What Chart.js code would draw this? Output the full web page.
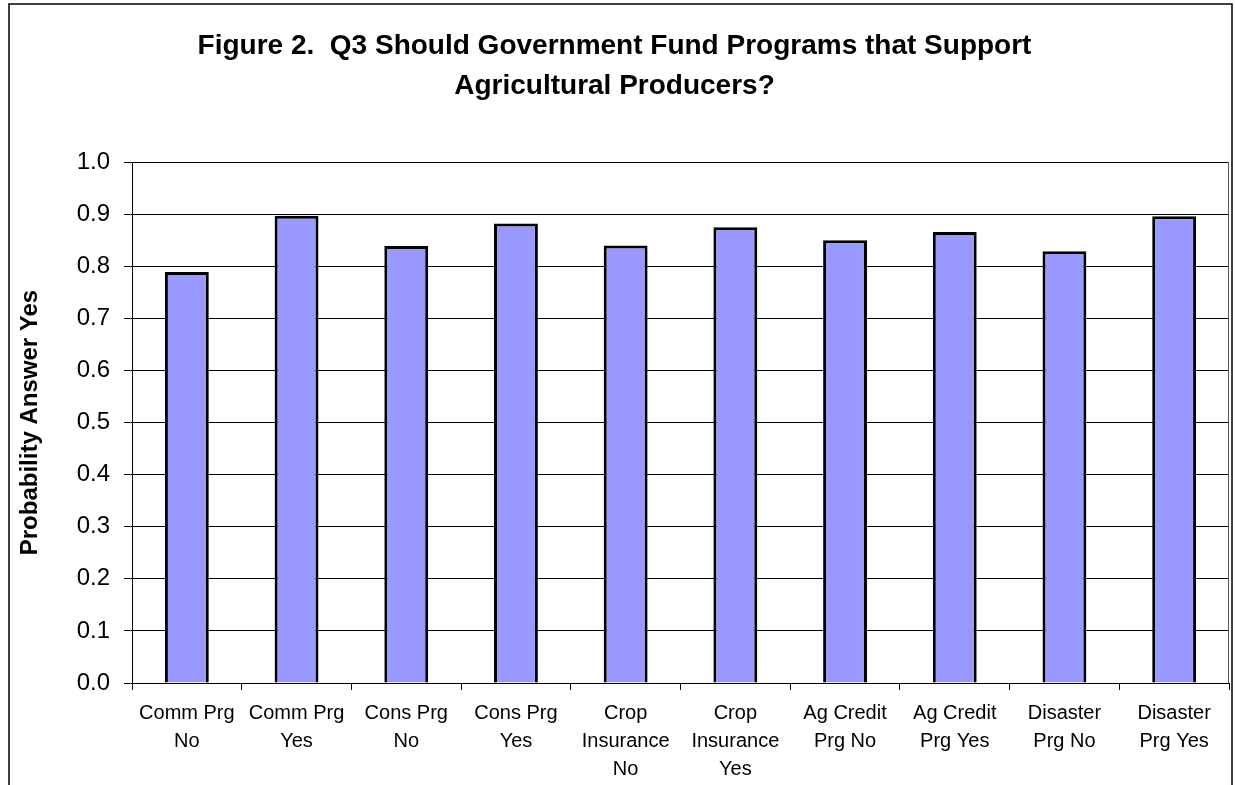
<!DOCTYPE html>
<html>
<head>
<meta charset="utf-8">
<script src="https://cdn.jsdelivr.net/npm/chart.js@4"></script>
<style>
  html, body { margin: 0; padding: 0; background: #fff; }
  #wrap { width: 1235px; height: 785px; }
</style>
</head>
<body>
<div id="wrap"><canvas id="myChart" width="1235" height="785"></canvas></div>
<script>
    // categories, one label line per array entry
    let labels = [
      ['Comm Prg', 'No'],
      ['Comm Prg', 'Yes'],
      ['Cons Prg', 'No'],
      ['Cons Prg', 'Yes'],
      ['Crop', 'Insurance', 'No'],
      ['Crop', 'Insurance', 'Yes'],
      ['Ag Credit', 'Prg No'],
      ['Ag Credit', 'Prg Yes'],
      ['Disaster', 'Prg No'],
      ['Disaster', 'Prg Yes']
    ];
    let values = [0.789, 0.897, 0.839, 0.882, 0.840, 0.875, 0.850, 0.866, 0.829, 0.896];
    let yTicks = [0.0, 0.1, 0.2, 0.3, 0.4, 0.5, 0.6, 0.7, 0.8, 0.9, 1.0];

    const chartTitle = ['Figure 2.  Q3 Should Government Fund Programs that Support', 'Agricultural Producers?'];
    const axisTitle = 'Probability Answer Yes';
    const barColor = '#9999ff';
    const fontName = '"Liberation Sans", Arial, sans-serif';

    // outer frame of the figure plus the right edge of the plot box
    const framePlugin = {
      id: 'frame',
      afterDraw(chart) {
        const ctx = chart.ctx;
        const a = chart.chartArea;
        ctx.save();
        ctx.strokeStyle = '#000';
        ctx.lineWidth = 1.5;
        ctx.beginPath();
        ctx.moveTo(9, 785);
        ctx.lineTo(9, 4);
        ctx.lineTo(1232, 4);
        ctx.lineTo(1232, 785);
        ctx.stroke();
        ctx.lineWidth = 1;
        ctx.strokeStyle = '#555';
        ctx.beginPath();
        ctx.moveTo(Math.round(a.right) - 0.5, a.top);
        ctx.lineTo(Math.round(a.right) - 0.5, a.bottom);
        ctx.stroke();
        ctx.restore();
      }
    };

    const ctx = document.getElementById('myChart').getContext('2d');

    let myChart = new Chart(ctx, {
      type: 'bar',
      data: {
        labels: labels,
        datasets: [{
          data: values,
          backgroundColor: barColor,
          borderColor: '#000',
          borderWidth: 3,
          barPercentage: 0.4,
          categoryPercentage: 1.0
        }]
      },
      options: {
        responsive: false,
        animation: false,
        devicePixelRatio: 1,
        layout: { padding: { left: 0, right: 6, top: 0, bottom: 0 } },
        plugins: {
          legend: { display: false },
          tooltip: { enabled: false },
          title: {
            display: true,
            text: chartTitle,
            color: '#000',
            font: { family: fontName, size: 28, weight: 'bold', lineHeight: 1.43 },
            padding: { top: 26, bottom: 56 }
          }
        },
        scales: {
          x: {
            grid: {
              drawOnChartArea: false,
              drawTicks: true,
              tickLength: 7,
              color: '#000'
            },
            border: { color: '#000', width: 1 },
            ticks: {
              color: '#000',
              font: { family: fontName, size: 20, lineHeight: 1.4 },
              padding: 9,
              maxRotation: 0,
              autoSkip: false
            },
            afterFit(scale) { scale.height = 102; }
          },
          y: {
            min: 0,
            max: 1,
            afterBuildTicks(scale) {
              scale.ticks = yTicks.map(v => ({ value: v }));
            },
            grid: {
              color: '#000',
              tickLength: 8,
              lineWidth: 1
            },
            border: { color: '#000', width: 1 },
            ticks: {
              color: '#000',
              font: { family: fontName, size: 24 },
              padding: 14,
              callback: v => Number(v).toFixed(1)
            },
            title: {
              display: true,
              text: axisTitle,
              color: '#000',
              font: { family: fontName, size: 24, weight: 'bold', lineHeight: 1.2 },
              padding: { top: 16, bottom: 0 }
            },
            afterFit(scale) { scale.width = 132; }
          }
        }
      },
      plugins: [framePlugin]
    });
</script>
</body>
</html>
